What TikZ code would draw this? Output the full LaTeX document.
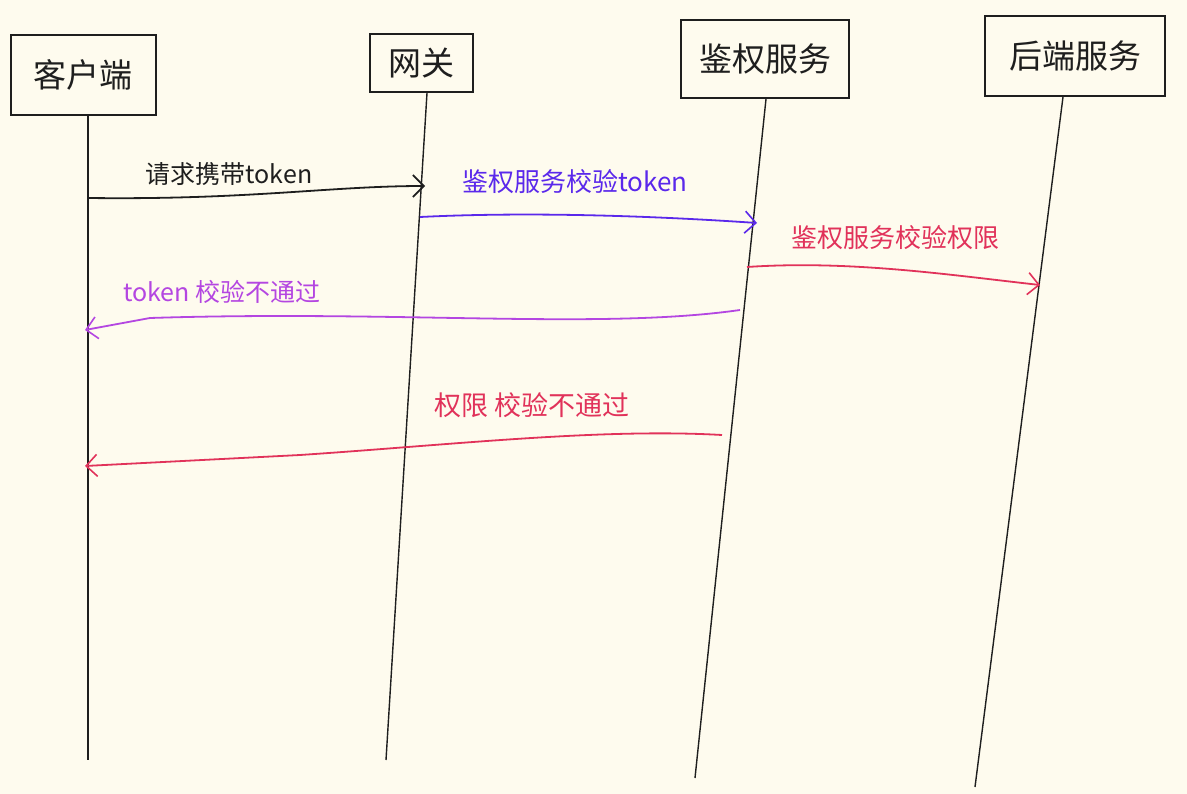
\documentclass[tikz,border=0pt]{standalone}
\usepackage{fontspec}
\setmainfont{Noto Sans CJK SC}
\usetikzlibrary{arrows.meta}
\definecolor{bgc}{RGB}{254,251,238}
\definecolor{inkc}{RGB}{30,30,30}
\definecolor{bluec}{RGB}{90,40,235}
\definecolor{redc}{RGB}{225,50,90}
\definecolor{purc}{RGB}{180,70,225}
\tikzset{
  actor/.style={draw=inkc, line width=2pt, inner sep=0pt, font=\fontsize{33}{33}\selectfont, text=inkc},
  life/.style={draw=inkc, line width=1.4pt},
  msg/.style={line width=1.8pt, -{Straight Barb[length=11pt,width=22pt,line width=1.6pt]}},
  lbl/.style={font=\fontsize{25}{25}\selectfont, inner sep=1pt}
}
\begin{document}
\begin{tikzpicture}[x=1pt,y=-1pt]
\fill[bgc] (0,0) rectangle (1187,794);
\useasboundingbox (0,0) rectangle (1187,794);

\node[actor, minimum width=145, minimum height=80] (client) at (83,75) {客户端};
\node[actor, minimum width=103, minimum height=58] (gw) at (421,63) {网关};
\node[actor, minimum width=168, minimum height=78] (auth) at (765,59) {鉴权服务};
\node[actor, minimum width=180, minimum height=80] (back) at (1075,56) {后端服务};

\coordinate (cB) at (88,760);
\coordinate (gB) at (386,760);
\coordinate (aB) at (695,778);
\coordinate (bB) at (975,787);
\draw[life] (client.south -| 88,0) -- (cB);
\draw[life] (gw.south -| 427,0) -- (gB);
\draw[life] (auth.south -| 766,0) -- (aB);
\draw[life] (back.south -| 1063,0) -- (bB);

% message points
\coordinate (m1s) at (88,198);
\coordinate (m1e) at (425,186);
\coordinate (m2s) at (420,217);
\coordinate (m2e) at (757,223);
\coordinate (m3s) at (747,267);
\coordinate (m3e) at (1040,285);
\coordinate (m4s) at (740,310);
\coordinate (m4e) at (85,330);
\coordinate (m5s) at (722,435);
\coordinate (m5e) at (85,466);

\draw[msg, draw=inkc] (m1s) .. controls (250,200) and (330,186) .. (m1e);
\node[lbl, text=inkc] (l1) at (229,174) {请求携带token};

\draw[msg, draw=bluec] (m2s) .. controls (520,212) and (640,215) .. (m2e);
\node[lbl, text=bluec, font=\fontsize{26}{26}\selectfont] (l2) at (575,182) {鉴权服务校验token};

\draw[msg, draw=redc] (m3s) .. controls (850,260) and (950,275) .. (m3e);
\node[lbl, text=redc, font=\fontsize{26}{26}\selectfont] (l3) at (895,238) {鉴权服务校验权限};

\draw[msg, draw=purc] (m4s) .. controls (600,330) and (400,310) .. (150,318) -- (m4e);
\node[lbl, text=purc] (l4) at (222,292) {token 校验不通过};

\draw[msg, draw=redc] (m5s) .. controls (600,428) and (450,445) .. (300,455) -- (m5e);
\node[lbl, text=redc, font=\fontsize{27}{27}\selectfont] (l5) at (532,405) {权限 校验不通过};
\end{tikzpicture}
\end{document}
